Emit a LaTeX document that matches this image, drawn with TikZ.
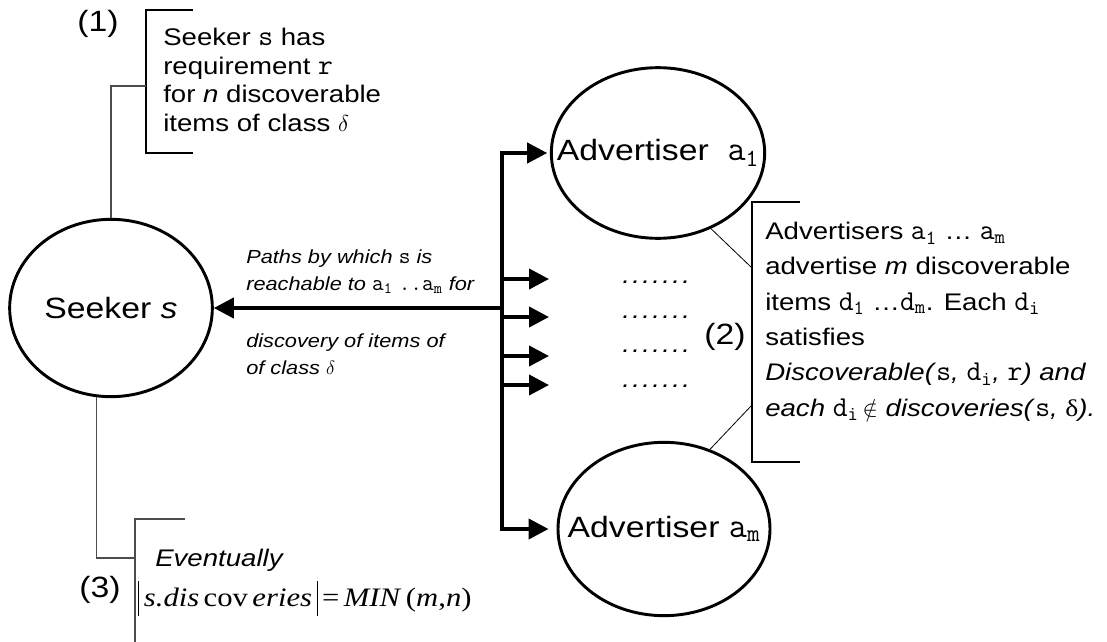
\documentclass[tikz,border=0pt]{standalone}
\usepackage{fontspec}
\setmainfont{Liberation Sans}[FakeStretch=1.15]
\setmonofont{Latin Modern Mono}[Scale=1.2]
\newfontfamily\eqfont{Liberation Serif}[FakeStretch=1.15]
\usetikzlibrary{arrows.meta,positioning,shapes.geometric}

\newcommand{\tv}[1]{\textup{\texttt{#1}}}
\newcommand{\tvsub}[2]{\tv{#1}\textsubscript{\tv{#2}}}
\newcommand{\dotrow}{.\kern1.75pt.\kern1.75pt.\kern1.75pt.\kern1.75pt.\kern1.75pt.\kern1.75pt.}
\newcommand{\absbar}{\rule[-7.5pt]{0.9pt}{26pt}}

\begin{document}
\begin{tikzpicture}[x=0.75pt, y=-0.75pt,
  font=\fontsize{18}{21.4}\selectfont,
  >={Triangle[length=15pt,width=15pt]},
  bubble/.style={ellipse, draw, line width=2.2pt, inner sep=0pt},
  fat/.style={->, line width=3pt},
  lead/.style={draw=black!70, line width=0.8pt},
  tick/.style={draw, line width=0.6pt},
  brace/.style={line width=1.1pt},
  note/.style={anchor=north west, align=left, inner sep=0pt},
  slant/.style={anchor=north west, align=left, inner sep=0pt,
                font=\fontsize{14.2}{20}\selectfont\itshape},
  num/.style={inner sep=0pt, font=\fontsize{22}{24}\selectfont}
]
\useasboundingbox (0,0) rectangle (1107,642);

% --- Parties ---
\node[bubble, minimum width=152pt, minimum height=133pt,
      font=\fontsize{22}{24}\selectfont] (seeker) at (111,308)
      {\makebox[0pt]{Seeker \textit{s}}};
\node[bubble, minimum width=160pt, minimum height=128pt,
      font=\fontsize{22}{24}\selectfont] (adv1) at (658,153)
      {\makebox[0pt]{Advertiser\ \ \tvsub{a}{1}}};
\node[bubble, minimum width=159pt, minimum height=130pt,
      font=\fontsize{22}{24}\selectfont] (advm) at (664,529)
      {\makebox[0pt]{Advertiser \tvsub{a}{m}}};

% --- Paths ---
\coordinate (jn) at (502,308);
\draw[fat, <->, shorten <=2pt, shorten >=6pt] (adv1.west) -| (jn) |- (advm.west);
\draw[fat] (jn) -- (seeker.east);
\foreach \y/\n in {279/1,317/2,356/3,385/4}{
  \coordinate (stub\n) at (549,\y);
  \draw[fat] (jn |- stub\n) -- (stub\n);
}
\foreach \y/\n in {283/1,318/2,352/3,387/4}
  \node[anchor=base west, inner sep=0pt, font=\fontsize{18}{20}\selectfont\itshape]
    (dots\n) at (622,\y) {\dotrow};

\node[slant] (via) at (246,250)
  {Paths by which \tv{s} is\\reachable to \tvsub{a}{1} \tv{..}\tvsub{a}{m} for};
\node[slant] (goal) at (246,334) {discovery of items of\\of class $\delta$};

% --- (1) requirement ---
\node[note] (req) at (163,28)
  {Seeker \tv{s} has\\requirement \tv{r}\\for \textit{n} discoverable\\items of class $\delta$};
\node[num] (n1) at (98,24) {(1)};
\draw[brace] (193,10) -- (146,10) -- (146,153) -- (193,153);
\coordinate (b1mid) at (146,86);
\draw[lead] (seeker.north) |- (b1mid);

% --- (2) advertisements ---
\node[note, font=\fontsize{18}{26.5}\selectfont] (offer) at (765,222)
  {Advertisers \tvsub{a}{1} … \tvsub{a}{m}\\
   advertise \textit{m} discoverable\\
   items \tvsub{d}{1} …\tvsub{d}{m}. Each \tvsub{d}{i}\\
   satisfies\\
   \textit{Discoverable(\tv{s}, \tvsub{d}{i}, \tv{r}) and}\\
   \textit{each \tvsub{d}{i}\,$\notin$ discoveries(\tv{s}, \textup{\eqfont δ}).}};
\node[num] (n2) at (725,337) {(2)};
\draw[brace] (800,202) -- (752,202) -- (752,462) -- (800,462);
\coordinate (b2up) at (752,268);
\coordinate (b2dn) at (752,405);
\draw[tick] (adv1.305) -- (b2up);
\draw[tick] (advm.60) -- (b2dn);

% --- (3) outcome ---
\node[anchor=base west, inner sep=0pt, font=\fontsize{18}{22}\selectfont\itshape]
  (event) at (155,566) {Eventually};
\node[anchor=base west, inner sep=0pt, font=\eqfont\fontsize{20}{24}\selectfont]
  (bound) at (138,606)
  {\absbar\,\textit{s.dis}\,cov\,\textit{eries}\,\absbar\,=\,\textit{MIN}\,(\textit{m},\textit{n})};
\node[num] (n3) at (100,590) {(3)};
\draw[lead] (185,519) -- (135,519) -- (135,642);
\coordinate (b3mid) at (135,558);
\draw[lead] (seeker.261) |- (b3mid);

\end{tikzpicture}
\end{document}
